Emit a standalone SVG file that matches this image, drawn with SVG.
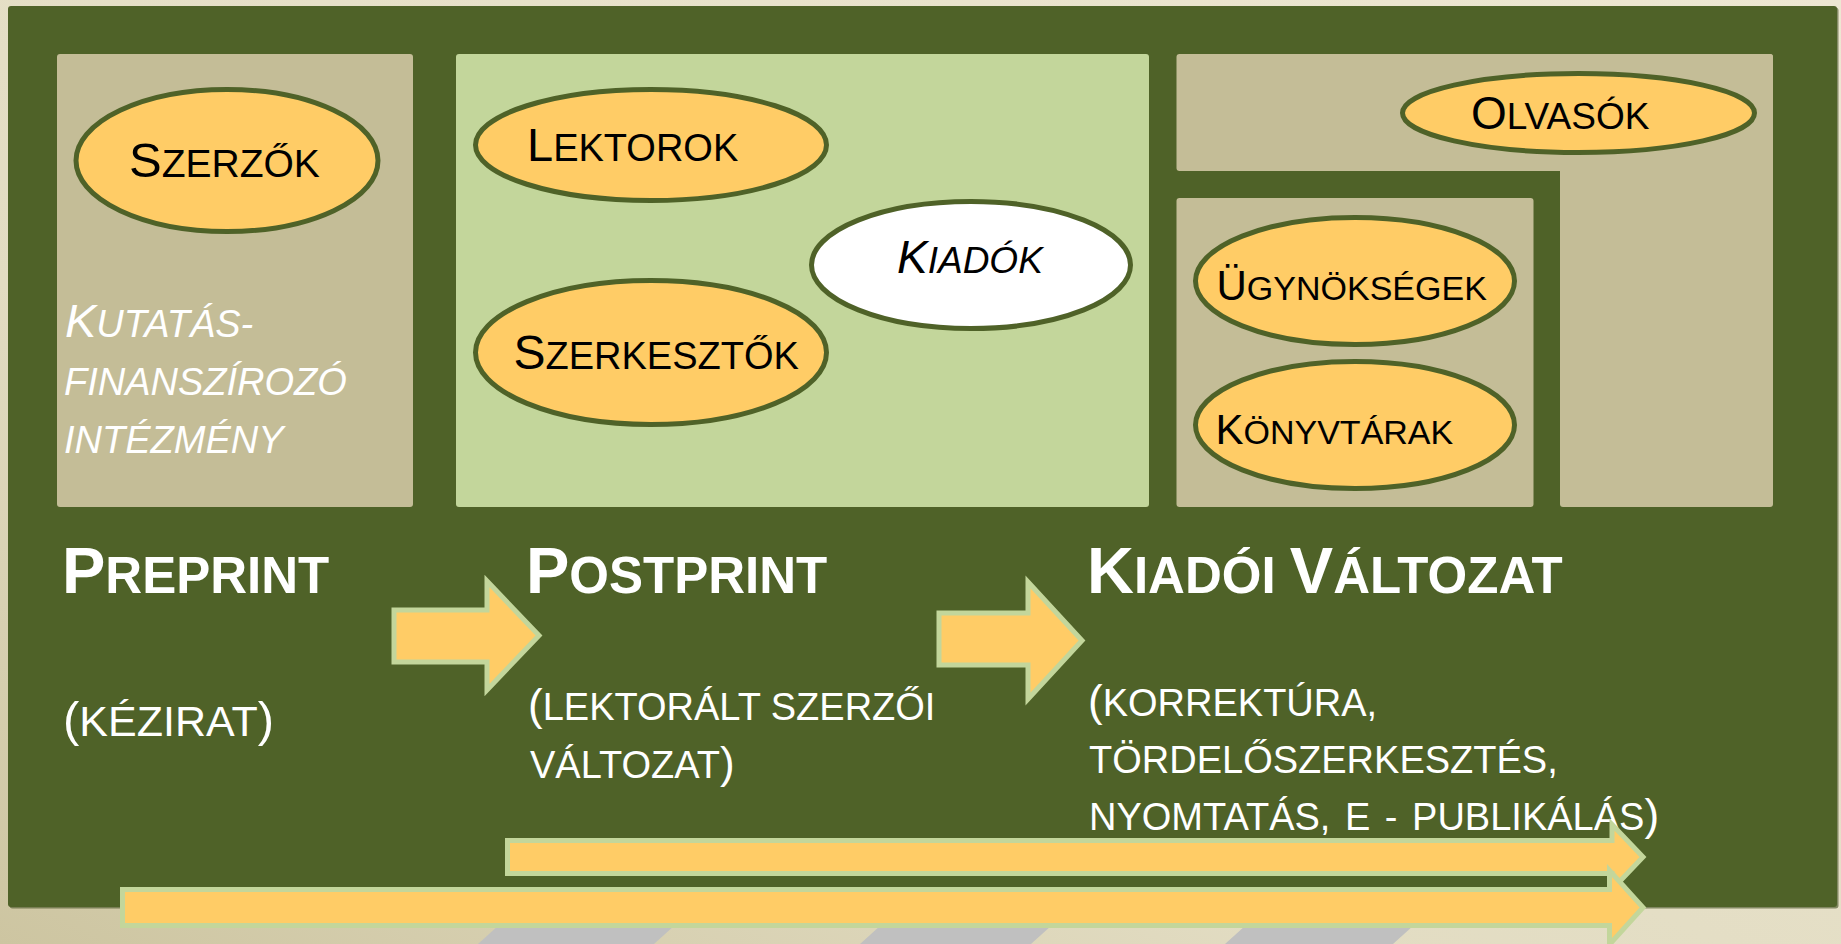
<svg xmlns="http://www.w3.org/2000/svg" width="1841" height="944" viewBox="0 0 1841 944">
<defs>
<linearGradient id="bg" x1="0" y1="1" x2="1" y2="0">
<stop offset="0" stop-color="#CDC5A1"/>
<stop offset="0.35" stop-color="#E2DCC2"/>
<stop offset="1" stop-color="#EDE7D2"/>
</linearGradient>
<style>
.t{font-family:"Liberation Sans",Arial,sans-serif}
.k{fill:#000000}
.w{fill:#FFFFFF}
.i{font-style:italic}
.bd{font-weight:bold}
.ell{fill:#FFCC66;stroke:#4F6228;stroke-width:5}
.ellw{fill:#FFFFFF;stroke:#4F6228;stroke-width:5}
.arr{fill:#FFCC66;stroke:#C3D69B;stroke-width:5;stroke-linejoin:miter}
.tan{fill:#C4BD97}
.lg{fill:#C3D69B}
.stripe{fill:#C0C0C0}
</style>
</defs>
<g id="background">
<rect x="0" y="0" width="1841" height="944" fill="url(#bg)"/>
<polygon class="stripe" points="478,944 654,944 695,907 519,907"/>
<polygon class="stripe" points="860,944 1031,944 1072,907 901,907"/>
<polygon class="stripe" points="1225,944 1393,944 1434,907 1266,907"/>
<rect x="9.5" y="7.5" width="1829" height="901" rx="3" fill="#3F4E20" opacity="0.6"/>
<rect x="8" y="6" width="1829" height="901" rx="3" fill="#4F6228"/>
</g>
<g id="panels">
<rect id="panel-preprint" class="tan" x="57" y="54" width="356" height="453" rx="3"/>
<rect id="panel-postprint" class="lg" x="456" y="54" width="693" height="453" rx="3"/>
<rect class="tan" x="1176.5" y="54" width="596.5" height="117" rx="3"/>
<rect class="tan" x="1560" y="54" width="213" height="453" rx="3"/>
<rect id="panel-distribution" class="tan" x="1176.5" y="198" width="357" height="309" rx="3"/>
</g>
<g id="node-kutatas">
<text class="t w i" x="65" y="337"><tspan font-size="47">K</tspan><tspan font-size="38">UTATÁS-</tspan></text>
<text class="t w i" x="64" y="395" font-size="38">FINANSZÍROZÓ</text>
<text class="t w i" x="64" y="453" font-size="38">INTÉZMÉNY</text>
</g>
<g id="node-szerzok">
<ellipse class="ell" cx="227" cy="160.5" rx="151" ry="71"/>
<text class="t k" x="129" y="177"><tspan font-size="49">S</tspan><tspan font-size="39">ZERZŐK</tspan></text>
</g>
<g id="node-lektorok">
<ellipse class="ell" cx="651" cy="145" rx="175.5" ry="55.5"/>
<text class="t k" x="527" y="161"><tspan font-size="47">L</tspan><tspan font-size="38">EKTOROK</tspan></text>
</g>
<g id="node-kiadok">
<ellipse class="ellw" cx="971" cy="265" rx="159.5" ry="63.5"/>
<text class="t k i" x="897" y="273"><tspan font-size="46">K</tspan><tspan font-size="37">IADÓK</tspan></text>
</g>
<g id="node-szerkesztok">
<ellipse class="ell" cx="651" cy="352.5" rx="175.5" ry="72"/>
<text class="t k" x="513.5" y="369"><tspan font-size="48">S</tspan><tspan font-size="38">ZERKESZTŐK</tspan></text>
</g>
<g id="node-olvasok">
<ellipse class="ell" cx="1578.5" cy="113" rx="176" ry="39.5"/>
<text class="t k" x="1471" y="129"><tspan font-size="46">O</tspan><tspan font-size="37">LVASÓK</tspan></text>
</g>
<g id="node-ugynoksegek">
<ellipse class="ell" cx="1355" cy="281" rx="159.5" ry="63.5"/>
<text class="t k" x="1216.5" y="299.5"><tspan font-size="42">Ü</tspan><tspan font-size="34">GYNÖKSÉGEK</tspan></text>
</g>
<g id="node-konyvtarak">
<ellipse class="ell" cx="1355" cy="425" rx="159.5" ry="63.5"/>
<text class="t k" x="1215.5" y="443.5"><tspan font-size="42">K</tspan><tspan font-size="34">ÖNYVTÁRAK</tspan></text>
</g>
<g id="node-preprint">
<text class="t w bd" x="62" y="593"><tspan font-size="65">P</tspan><tspan font-size="51">REPRINT</tspan></text>
<text class="t w" x="63" y="736"><tspan font-size="49">(</tspan><tspan font-size="43">KÉZIRAT</tspan><tspan font-size="49">)</tspan></text>
</g>
<g id="node-postprint">
<text class="t w bd" x="526" y="593"><tspan font-size="65">P</tspan><tspan font-size="51">OSTPRINT</tspan></text>
<text class="t w" x="528" y="720"><tspan font-size="44">(</tspan><tspan font-size="38">LEKTORÁLT SZERZŐI</tspan></text>
<text class="t w" x="530" y="778"><tspan font-size="38">VÁLTOZAT</tspan><tspan font-size="44">)</tspan></text>
</g>
<g id="node-kiadoi">
<text class="t w bd" x="1087" y="593"><tspan font-size="65">K</tspan><tspan font-size="51">IADÓI </tspan><tspan font-size="65">V</tspan><tspan font-size="51">ÁLTOZAT</tspan></text>
<text class="t w" x="1088" y="716"><tspan font-size="44">(</tspan><tspan font-size="38">KORREKTÚRA,</tspan></text>
<text class="t w" x="1089" y="773" font-size="38">TÖRDELŐSZERKESZTÉS,</text>
<text class="t w" x="1089" y="830" word-spacing="4"><tspan font-size="38">NYOMTATÁS, E - PUBLIKÁLÁS</tspan><tspan font-size="44">)</tspan></text>
</g>
<g id="connectors">
<path class="arr" d="M394,610 H487 V581 L539,635.5 L487,690 V662 H394 Z"/>
<path class="arr" d="M939,613 H1028 V582 L1082,640.5 L1028,699 V665 H939 Z"/>
<path class="arr" d="M507.5,840.5 H1612 V824.5 L1643,857 L1612,889.5 V873.5 H507.5 Z"/>
<path class="arr" d="M122.5,889.5 H1609.5 V870.5 L1643,907.5 L1609.5,944.5 V925.5 H122.5 Z"/>
</g>
</svg>
